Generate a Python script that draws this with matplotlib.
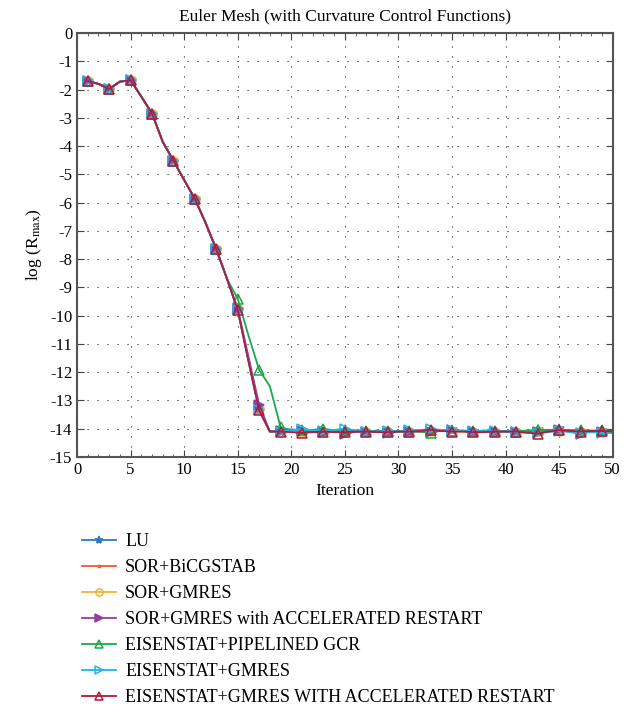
import numpy as np
import matplotlib
matplotlib.use('Agg')
import matplotlib.pyplot as plt

plt.rcParams['font.family'] = ['Liberation Serif', 'DejaVu Serif']
plt.rcParams['mathtext.fontset'] = 'stix'
plt.rcParams['axes.unicode_minus'] = False

iterations = list(range(1, 51))

# iterations 1-14, all solvers sit on top of each other here
head = [-1.70, -1.80, -1.98, -1.72, -1.67, -2.25, -2.85, -3.85, -4.52, -5.20,
        -5.87, -6.72, -7.65, -8.70]

# iterations 15-50 per solver
lu_tail = [-9.80, -11.60, -13.35, -14.10, -14.10, -14.08, -14.10, -14.12, -14.15, -14.10,
           -14.08, -14.10, -14.12, -14.10, -14.10, -14.08, -14.10, -14.10, -14.08, -14.06,
           -14.04, -14.08, -14.10, -14.10, -14.12, -14.12, -14.12, -14.10, -14.06, -14.06,
           -14.02, -14.06, -14.10, -14.08, -14.08, -14.10]
bicg_tail = [-9.80, -11.60, -13.35, -14.10, -14.10, -14.10, -14.12, -14.10, -14.10, -14.10,
             -14.10, -14.12, -14.10, -14.10, -14.10, -14.10, -14.10, -14.10, -14.10, -14.08,
             -14.08, -14.10, -14.10, -14.10, -14.10, -14.12, -14.10, -14.10, -14.08, -14.08,
             -14.08, -14.08, -14.10, -14.10, -14.10, -14.10]
sorgm_tail = [-9.78, -11.58, -13.30, -14.10, -14.10, -14.10, -14.10, -14.10, -14.10, -14.10,
              -14.10, -14.10, -14.10, -14.10, -14.10, -14.10, -14.10, -14.08, -14.08, -14.08,
              -14.08, -14.10, -14.10, -14.10, -14.10, -14.10, -14.10, -14.10, -14.08, -14.08,
              -14.08, -14.08, -14.10, -14.10, -14.10, -14.10]
sorgm_acc_tail = [-9.75, -11.45, -13.15, -14.10, -14.08, -14.02, -14.08, -14.10, -14.12, -14.06,
                  -14.20, -14.10, -14.12, -14.06, -14.15, -14.10, -14.10, -14.08, -14.10, -14.06,
                  -14.06, -14.08, -14.10, -14.06, -14.10, -14.08, -14.12, -14.08, -14.10, -14.04,
                  -14.06, -14.10, -14.20, -14.08, -14.10, -14.12]
pgcr_tail = [-9.40, -10.70, -11.92, -12.50, -13.95, -14.05, -14.06, -14.04, -14.00, -14.06,
             -14.04, -14.06, -14.08, -14.10, -14.08, -14.10, -14.08, -14.10, -14.15, -14.06,
             -14.08, -14.06, -14.08, -14.08, -14.08, -14.10, -14.10, -14.06, -14.04, -14.04,
             -14.04, -14.04, -14.06, -14.06, -14.06, -14.08]
eis_tail = [-9.80, -11.60, -13.35, -14.10, -14.10, -14.06, -14.00, -14.06, -14.08, -14.04,
            -14.00, -14.06, -14.10, -14.10, -14.08, -14.10, -14.06, -14.04, -14.02, -14.04,
            -14.06, -14.08, -14.08, -14.08, -14.08, -14.10, -14.12, -14.14, -14.15, -14.12,
            -14.08, -14.12, -14.14, -14.12, -14.15, -14.15]
eis_acc_tail = [-9.80, -11.60, -13.35, -14.10, -14.10, -14.12, -14.15, -14.12, -14.10, -14.12,
                -14.12, -14.10, -14.10, -14.12, -14.12, -14.10, -14.10, -14.08, -14.03, -14.08,
                -14.10, -14.10, -14.12, -14.12, -14.10, -14.10, -14.10, -14.14, -14.17, -14.10,
                -14.05, -14.08, -14.10, -14.08, -14.08, -14.10]

series = [
    ("LU", head + lu_tail, '#2b7bbf', '*', '#2b7bbf'),
    ("SOR+BiCGSTAB", head + bicg_tail, '#f05a28', '.', '#f05a28'),
    ("SOR+GMRES", head + sorgm_tail, '#f5b335', 'o', 'none'),
    ("SOR+GMRES with ACCELERATED RESTART", head + sorgm_acc_tail, '#93409e', '>', '#93409e'),
    ("EISENSTAT+PIPELINED GCR", head + pgcr_tail, '#19a84a', '^', 'none'),
    ("EISENSTAT+GMRES", head + eis_tail, '#1fb5ea', '>', 'none'),
    ("EISENSTAT+GMRES WITH ACCELERATED RESTART", head + eis_acc_tail, '#b5173f', '^', 'none'),
]

fig = plt.figure(figsize=(6.33, 7.07), dpi=100)
ax = fig.add_axes([0.1217, 0.3536, 0.8463, 0.5997])

for label, vals, col, mk, mfc in series:
    ms = 4 if mk == '.' else (7.5 if mk == '*' else 6.5)
    ax.plot(iterations, vals, color=col, linewidth=1.3, marker=mk, markersize=ms,
            markerfacecolor=mfc, markeredgecolor=col, markeredgewidth=1.1,
            markevery=2, label=label)

ax.set_xlim(0, 50)
ax.set_ylim(-15, 0)
ax.set_xticks(np.arange(0, 51, 5))
ax.set_xticks(np.arange(0, 51, 1), minor=True)
ax.set_yticks(np.arange(-15, 1, 1))
ax.tick_params(axis='both', which='major', direction='in', length=5, top=True,
               right=True, labelsize=12, color='#444444')
ax.tick_params(axis='x', which='minor', direction='in', length=2.5, top=True,
               color='#444444')
ax.grid(True, which='major', color='#222222', linestyle=(0, (1, 8)), linewidth=0.8)
for s in ax.spines.values():
    s.set_color('#555555')
    s.set_linewidth(1.5)

ax.set_title("Euler Mesh (with Curvature Control Functions)", fontsize=12.5, pad=9)
ax.set_xlabel("Iteration", fontsize=12.5)
ax.set_ylabel(r"log (R$_{\rm max}$)", fontsize=12.5)

leg = fig.legend(loc='upper left', bbox_to_anchor=(0.118, 0.256), frameon=False,
                 fontsize=13, handlelength=1.9, handletextpad=0.5, labelspacing=0.5,
                 borderaxespad=0)
for h in leg.legend_handles:
    h.set_markersize(h.get_markersize() * 0.8)

fig.savefig('out.png', dpi=100)
